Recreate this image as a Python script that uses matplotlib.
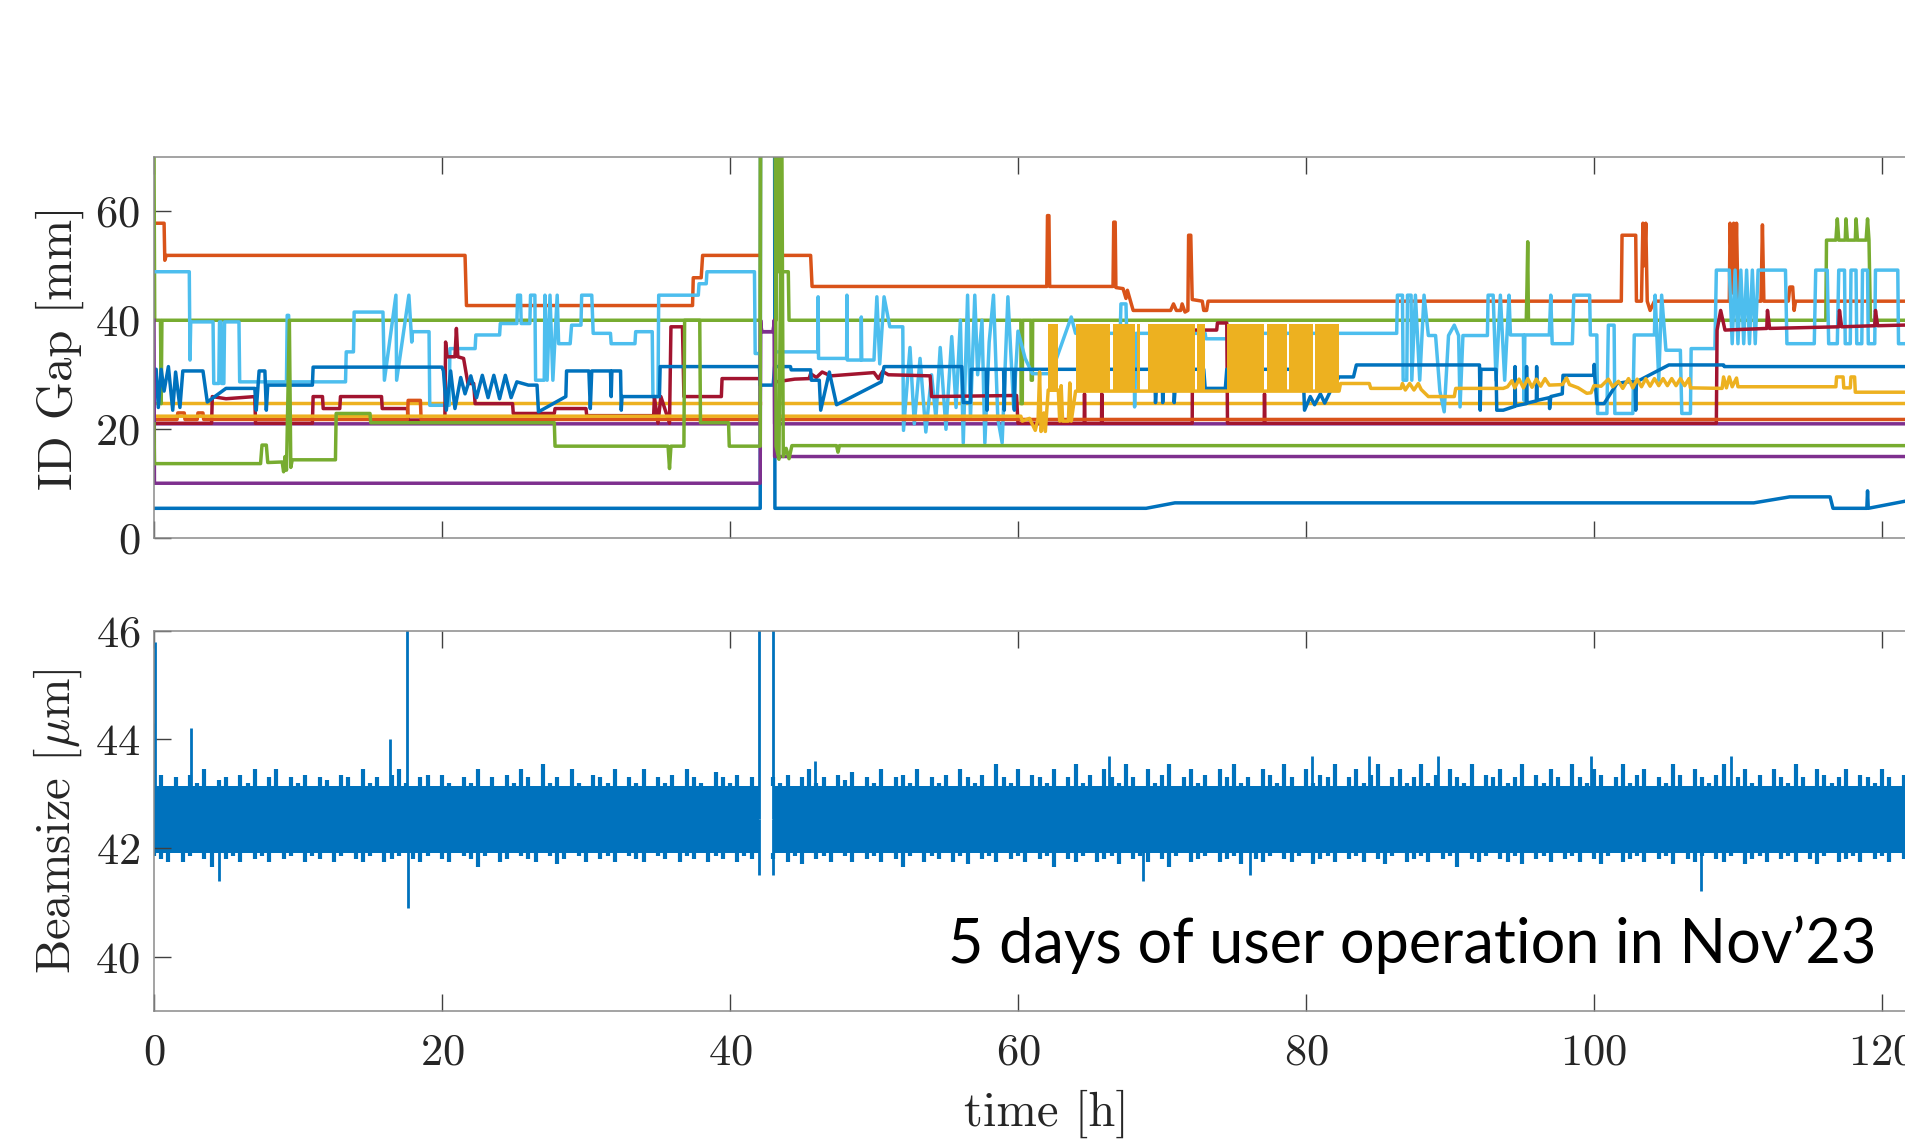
import numpy as np
import matplotlib
matplotlib.use("Agg")
import matplotlib.pyplot as plt

plt.rcParams["font.family"] = "cmr10"
plt.rcParams["mathtext.fontset"] = "cm"
plt.rcParams["axes.formatter.use_mathtext"] = True
plt.rcParams["axes.unicode_minus"] = False

NAN = np.nan

# MATLAB default colour order
BLUE = "#0072BD"
ORANGE = "#D95319"
YELLOW = "#EDB120"
PURPLE = "#7E2F8E"
GREEN = "#77AC30"
LIGHTBLUE = "#4DBEEE"
DARKRED = "#A2142F"

# ---- ID gaps, (time [h], gap [mm]) ----
GAP_BLUE_LOW = [(0.0, 5.5), (42.1, 5.5), (42.12, 75), (43.1, 75), (43.12, 5.5),
                (68.9, 5.5), (70.9, 6.5), (111.1, 6.5), (113.6, 7.6), (116.4, 7.6),
                (116.6, 5.5), (118.95, 5.5), (119.0, 8.7), (119.05, 5.5),
                (121.8, 6.9), (123.0, 7.4)]

GAP_ORANGE_HIGH = [(0.0, 57.8), (0.7, 57.8), (0.75, 51.0), (0.85, 51.9), (21.6, 51.9),
                   (21.7, 42.7), (37.4, 42.7), (37.45, 47.8), (38.0, 47.8), (38.1, 51.9),
                   (42.0, 51.9), (42.05, NAN), (43.2, 51.9), (45.6, 51.9), (45.7, 46.2),
                   (62.0, 46.2), (62.05, 59.2), (62.15, 59.2), (62.2, 46.2), (66.6, 46.2),
                   (66.65, 58.0), (66.75, 58.0), (66.8, 46.0), (67.3, 45.8), (67.5, 44.0),
                   (67.6, 45.5), (68.0, 41.8), (70.6, 41.8), (70.8, 43.0), (71.0, 41.8),
                   (71.3, 41.8), (71.4, 43.0), (71.6, 41.5), (71.8, 41.8), (71.85, 55.6),
                   (72.0, 55.6), (72.1, 43.8), (72.8, 43.5), (72.9, 41.8), (73.1, 41.8),
                   (73.2, 43.5), (101.9, 43.5), (101.95, 55.6), (102.9, 55.6), (102.95, 43.5),
                   (103.3, 43.5), (103.4, 57.8), (103.5, 50.0), (103.6, 57.8), (103.7, 43.5),
                   (103.9, 41.8), (104.2, 43.5), (109.4, 43.5), (109.45, 57.8), (109.6, 45.0),
                   (109.7, 57.8), (109.8, 45.0), (109.9, 57.8), (110.0, 43.5), (111.6, 43.5),
                   (111.7, 57.5), (111.8, 43.5), (113.5, 43.5), (113.6, 46.1), (113.8, 46.1),
                   (113.9, 41.8), (114.0, 43.5), (123.0, 43.5)]

GAP_YELLOW_FLAT = [(0.0, 24.9), (42.05, 24.9), (42.06, NAN), (43.15, 24.9), (123.0, 24.9)]

GAP_PURPLE_MID = [(0.0, 21.0), (42.1, 21.0), (42.12, 40.0), (42.2, 37.9), (43.0, 37.9),
                  (43.08, 40.0), (43.1, 21.0), (123.0, 21.0)]

GAP_GREEN_HIGH = [(0.0, 70.0), (0.05, 40.0), (0.45, 40.0), (0.5, 24.7), (0.55, 40.0),
                  (42.1, 40.0), (42.12, 75), (43.15, 75), (43.2, 40.0), (43.3, 75),
                  (43.4, 48.9), (43.5, 75), (43.55, 48.9), (44.05, 48.9), (44.1, 40.0),
                  (60.2, 40.0), (60.22, 24.7), (60.3, 24.7), (60.32, 40.0), (60.9, 40.0),
                  (60.92, 29.0), (61.0, 29.0), (61.02, 40.0), (95.3, 40.0), (95.35, 46.3),
                  (95.4, 54.4), (95.45, 40.0), (116.1, 40.0), (116.15, 54.7), (116.8, 54.7),
                  (116.9, 58.6), (117.0, 54.7), (117.45, 54.7), (117.5, 58.6), (117.6, 54.7),
                  (118.15, 54.7), (118.2, 58.6), (118.3, 54.7), (118.9, 54.7), (119.0, 58.6),
                  (119.1, 54.7), (119.2, 40.0), (123.0, 40.0)]

GAP_LIGHTBLUE = [(0.0, 48.9), (2.45, 48.9), (2.5, 32.7), (2.55, 39.7), (4.1, 39.7),
                 (4.15, 28.4), (4.5, 28.4), (4.55, 39.7), (4.65, 39.7), (4.7, 28.4),
                 (4.85, 28.4), (4.9, 39.7), (5.9, 39.7), (5.95, 28.7), (9.2, 28.7),
                 (9.25, 40.9), (9.35, 40.9), (9.4, 28.7), (13.3, 28.7), (13.35, 34.2),
                 (13.85, 34.2), (13.9, 41.5), (15.9, 41.5), (16.0, 29.0), (16.8, 44.6),
                 (16.85, 29.0), (17.7, 44.6), (17.9, 36.0), (17.95, 37.9), (19.1, 37.9),
                 (19.15, 24.4), (20.5, 24.4), (20.55, 34.8), (22.3, 34.8), (22.35, 37.3),
                 (24.0, 37.3), (24.05, 39.4), (25.2, 39.4), (25.25, 44.6), (25.45, 44.6),
                 (25.5, 39.4), (26.1, 39.4), (26.15, 44.6), (26.45, 44.6), (26.5, 29.0),
                 (27.1, 29.0), (27.15, 44.6), (27.3, 29.0), (27.5, 44.6), (27.7, 29.0),
                 (28.0, 44.6), (28.1, 35.7), (28.9, 35.7), (29.0, 39.1), (29.65, 39.1),
                 (29.7, 44.6), (30.4, 44.6), (30.5, 37.6), (31.7, 37.6), (31.75, 35.7),
                 (33.4, 35.7), (33.45, 37.9), (34.6, 37.9), (34.65, 26.0), (35.0, 26.0),
                 (35.05, 44.6), (37.8, 44.6), (37.85, 46.7), (38.35, 46.7), (38.4, 48.9),
                 (41.7, 48.9), (41.75, 33.9), (42.05, 33.9), (42.06, NAN), (43.15, 34.2),
                 (46.1, 34.2), (46.12, 44.3), (46.15, 33.0), (48.1, 33.0), (48.12, 44.6),
                 (48.15, 32.7), (49.1, 32.7), (49.12, 40.6), (49.15, 32.7), (50.0, 32.7),
                 (50.2, 44.3), (50.4, 32.0), (50.7, 44.3), (51.1, 38.8), (52.0, 38.8),
                 (52.05, 19.8), (52.5, 35.0), (52.8, 21.0), (53.2, 33.0), (53.6, 19.5),
                 (54.0, 30.0), (54.3, 22.0), (54.6, 35.0), (55.0, 20.0), (55.4, 37.0),
                 (55.7, 24.0), (56.0, 40.0), (56.2, 17.5), (56.5, 44.6), (56.7, 22.0),
                 (57.0, 44.6), (57.2, 30.0), (57.5, 40.0), (57.7, 17.5), (58.0, 36.0),
                 (58.3, 44.6), (58.6, 22.0), (58.9, 17.5), (59.3, 44.3), (59.7, 24.0),
                 (60.0, 38.0), (60.5, 33.0), (61.0, 30.2), (62.3, 30.2), (63.7, 40.6),
                 (64.0, 37.6), (67.1, 37.6), (67.15, 43.0), (67.5, 43.0), (67.55, 37.6),
                 (68.05, 37.6), (68.1, 24.1), (68.2, 37.6), (73.0, 37.6), (73.05, 36.6),
                 (74.5, 36.6), (74.55, 37.6), (86.3, 37.6), (86.35, 44.6), (86.7, 44.6),
                 (86.75, 29.0), (87.0, 29.0), (87.05, 44.6), (87.3, 44.6), (87.35, 29.0),
                 (87.6, 44.6), (87.9, 29.0), (88.2, 44.6), (88.5, 37.2), (89.0, 37.2),
                 (89.3, 27.0), (89.6, 23.2), (89.9, 37.2), (90.3, 39.1), (90.6, 37.2),
                 (90.7, 24.1), (90.9, 37.2), (92.6, 37.2), (92.65, 44.6), (93.0, 44.6),
                 (93.2, 29.0), (93.5, 44.6), (93.8, 29.0), (94.1, 44.6), (94.2, 37.3),
                 (95.1, 37.3), (95.15, 25.3), (95.2, 37.3), (96.9, 37.3), (97.0, 44.6),
                 (97.1, 35.7), (98.5, 35.7), (98.6, 44.6), (99.7, 44.6), (99.75, 37.3),
                 (100.2, 37.3), (100.25, 22.9), (100.9, 22.9), (101.0, 39.1), (101.4, 39.1),
                 (101.45, 22.9), (102.7, 22.9), (102.8, 37.3), (104.2, 37.3), (104.25, 44.6),
                 (104.5, 29.0), (104.7, 44.6), (105.0, 34.5), (106.0, 34.5), (106.1, 22.9),
                 (106.7, 22.9), (106.75, 34.8), (108.4, 34.8), (108.5, 49.2), (109.4, 49.2),
                 (109.6, 35.7), (109.8, 49.2), (110.0, 35.7), (110.2, 49.2), (110.4, 35.7),
                 (110.6, 49.2), (110.8, 35.7), (111.0, 49.2), (111.2, 35.7), (111.4, 49.2),
                 (113.3, 49.2), (113.4, 35.7), (115.3, 35.7), (115.4, 49.2), (116.2, 49.2),
                 (116.3, 35.7), (116.9, 35.7), (117.0, 49.2), (117.4, 49.2), (117.45, 35.7),
                 (117.8, 35.7), (117.85, 49.2), (118.2, 49.2), (118.25, 35.7), (118.6, 35.7),
                 (118.65, 49.2), (119.0, 49.2), (119.05, 35.7), (119.5, 35.7), (119.55, 49.2),
                 (121.1, 49.2), (121.15, 35.7), (123.0, 35.7)]

GAP_DARKRED = [(0.0, 21.1), (4.0, 21.1), (4.05, 26.0), (5.0, 25.6), (7.0, 26.0), (7.05, 21.1),
               (11.0, 21.1), (11.05, 26.0), (11.7, 26.0), (11.75, 23.8), (12.9, 23.8),
               (12.95, 26.0), (15.8, 26.0), (15.85, 23.8), (17.6, 23.8), (17.65, 21.7),
               (20.2, 21.7), (20.25, 36.0), (20.35, 33.3), (20.9, 33.3), (21.0, 38.5),
               (21.1, 33.3), (21.5, 33.0), (21.8, 28.4), (22.2, 28.4), (22.3, 24.7),
               (24.9, 24.7), (24.95, 22.9), (27.8, 22.9), (27.85, 23.8), (30.0, 23.8),
               (30.05, 22.5), (34.7, 22.5), (34.75, 26.0), (35.0, 21.1), (35.2, 26.0),
               (35.8, 21.1), (35.9, 38.8), (36.7, 38.8), (36.8, 26.0), (39.4, 26.0),
               (39.45, 29.3), (42.05, 29.3), (42.06, NAN), (43.2, 28.7), (44.5, 29.2),
               (45.5, 29.3), (45.6, 30.2), (46.0, 29.5), (46.4, 30.5), (47.0, 29.8),
               (49.0, 30.2), (50.0, 30.4), (50.3, 29.3), (50.6, 30.6), (51.0, 30.0),
               (53.9, 29.8), (54.0, 26.0), (59.9, 26.2), (60.0, 21.1), (64.6, 21.1),
               (64.62, 26.5), (64.65, 21.1), (65.8, 21.1), (65.82, 26.5), (65.85, 21.1),
               (72.1, 21.1), (72.12, 38.2), (73.8, 38.2), (73.85, 39.5), (74.5, 39.5),
               (74.55, 21.1), (77.1, 21.1), (77.12, 26.5), (77.15, 21.1), (108.5, 21.1),
               (108.55, 38.2), (108.8, 41.8), (109.1, 38.2), (112.0, 38.5), (112.05, 41.8),
               (112.2, 38.5), (117.0, 38.8), (117.05, 41.8), (117.2, 38.8), (119.5, 39.0),
               (119.55, 41.8), (119.7, 39.0), (123.0, 39.2)]

GAP_BLUE_MID = [(0.0, 31.0), (0.15, 31.0), (0.3, 24.0), (0.5, 31.0), (0.7, 27.0), (1.0, 31.5),
                (1.3, 23.5), (1.5, 30.5), (1.8, 24.0), (2.0, 30.7), (3.4, 30.7), (3.7, 25.0),
                (5.0, 27.5), (7.0, 27.5), (7.1, 23.5), (7.3, 30.7), (7.7, 30.7), (7.8, 23.5),
                (7.9, 28.1), (11.0, 28.1), (11.05, 31.4), (20.0, 31.4), (20.1, 30.7),
                (20.3, 23.5), (20.6, 30.7), (20.9, 23.8), (21.3, 29.5), (21.6, 26.5),
                (22.0, 29.8), (22.4, 25.8), (22.8, 29.9), (23.2, 25.8), (23.6, 29.9),
                (24.0, 25.6), (24.4, 29.9), (24.8, 25.8), (25.2, 28.7), (26.0, 28.1),
                (26.6, 28.1), (26.7, 23.2), (28.6, 26.0), (28.65, 30.7), (30.2, 30.7),
                (30.3, 23.8), (30.4, 30.7), (31.7, 30.7), (31.75, 26.0), (31.8, 30.7),
                (32.4, 30.7), (32.45, 23.5), (32.5, 26.0), (35.1, 26.0), (35.15, 31.5),
                (42.05, 31.5), (42.1, 28.1), (43.0, 28.1), (43.1, 31.5), (44.2, 31.5),
                (44.25, 30.9), (45.6, 30.9), (45.65, 29.0), (46.2, 29.0), (46.3, 23.5),
                (46.9, 30.5), (47.4, 24.5), (50.5, 28.7), (50.7, 31.5), (56.1, 31.5),
                (56.2, 24.9), (56.7, 24.9), (56.75, 31.0), (57.8, 31.0), (57.85, 23.5),
                (57.9, 31.0), (59.0, 31.0), (59.05, 23.5), (59.1, 31.0), (59.7, 31.0),
                (59.75, 23.5), (59.8, 31.0), (69.5, 31.0), (69.55, 24.9), (69.7, 31.0),
                (70.0, 31.0), (70.05, 24.9), (70.2, 31.0), (70.8, 31.0), (70.85, 24.9),
                (71.0, 31.0), (72.9, 31.0), (73.0, 27.5), (74.4, 27.5), (74.5, 31.0),
                (79.8, 31.0), (79.9, 23.5), (80.3, 26.0), (80.6, 24.5), (81.0, 26.5),
                (81.3, 24.8), (81.7, 27.0), (82.3, 29.6), (83.3, 29.6), (83.5, 31.8),
                (92.05, 31.8), (92.1, 23.5), (92.15, 31.0), (93.2, 31.0), (93.25, 23.5),
                (93.7, 23.5), (94.5, 24.2), (94.52, 31.5), (94.55, 24.3), (95.3, 24.7),
                (95.32, 31.5), (95.35, 24.8), (96.0, 25.2), (96.02, 31.5), (96.05, 25.3),
                (96.9, 25.8), (96.92, 23.8), (97.0, 26.0), (97.8, 26.5), (97.85, 29.9),
                (100.0, 29.9), (100.02, 31.9), (100.05, 29.9), (100.2, 24.7), (100.7, 24.7),
                (101.6, 28.4), (102.3, 28.7), (102.85, 28.7), (102.9, 23.5), (102.95, 28.7),
                (105.2, 31.8), (109.0, 31.8), (109.05, 31.5), (123.0, 31.5)]

GAP_ORANGE_LOW = [(0.0, 21.8), (1.6, 21.8), (1.65, 23.0), (2.1, 23.0), (2.15, 21.8),
                  (3.0, 21.8), (3.05, 23.0), (3.4, 23.0), (3.45, 21.8), (17.6, 21.8),
                  (17.65, 25.3), (18.5, 25.3), (18.55, 21.8), (42.05, 21.8), (42.06, NAN),
                  (43.15, 21.8), (123.0, 21.8)]

GAP_YELLOW_SWEEP = [(0.0, 22.4), (42.05, 22.4), (42.06, NAN), (43.15, 22.4), (60.2, 22.4),
                    (60.3, 21.5), (60.8, 22.0), (61.2, 19.8), (61.4, 22.0), (61.5, 30.5),
                    (61.6, 19.6), (61.8, 23.0), (61.9, 19.6), (62.1, 27.2), (62.8, 27.2),
                    (62.9, 21.5), (63.0, 28.0), (63.1, 21.5), (63.5, 21.5), (63.6, 28.5),
                    (63.7, 21.5), (64.0, 27.0), (82.3, 27.0), (82.4, 28.4), (84.4, 28.4),
                    (84.5, 27.5), (86.6, 27.5), (86.7, 28.4), (86.9, 27.2), (87.2, 28.4),
                    (87.5, 27.2), (87.8, 28.4), (88.0, 27.3), (88.5, 26.0), (90.3, 26.0),
                    (90.4, 27.5), (93.7, 27.5), (94.0, 27.8), (94.3, 28.9), (94.5, 27.6),
                    (94.8, 29.2), (95.1, 27.6), (95.4, 29.3), (95.7, 27.7), (96.0, 29.2),
                    (96.3, 27.9), (96.6, 29.3), (96.9, 28.1), (97.8, 28.2), (98.1, 29.4),
                    (98.3, 28.2), (98.9, 27.6), (99.5, 26.6), (99.8, 26.7), (100.0, 28.0),
                    (100.5, 27.9), (101.0, 29.2), (101.3, 27.8), (101.7, 28.8), (102.0, 27.5),
                    (102.4, 29.3), (102.7, 27.6), (103.0, 29.2), (103.3, 27.8), (103.6, 29.3),
                    (103.9, 27.9), (104.2, 29.3), (104.5, 28.0), (104.8, 29.3), (105.1, 28.0),
                    (105.4, 29.3), (105.7, 28.0), (106.0, 29.3), (106.3, 28.0), (106.6, 29.3),
                    (106.7, 27.6), (108.9, 27.5), (109.0, 29.6), (109.2, 27.6), (109.4, 29.6),
                    (109.6, 27.8), (109.9, 29.4), (110.0, 27.8), (116.8, 27.8), (116.85, 29.6),
                    (117.3, 29.6), (117.35, 27.6), (117.8, 27.6), (117.85, 29.6), (118.1, 29.6),
                    (118.15, 26.8), (123.0, 26.8)]

# periods where the sweeping undulator toggles fast between two gaps
SWEEP_BLOCKS = [(62.1, 62.8), (64.0, 66.4), (66.6, 68.1), (68.3, 68.45), (69.0, 72.3),
                (72.4, 73.0), (74.5, 77.1), (77.3, 78.7), (78.8, 80.5), (80.6, 82.3)]
SWEEP_RANGE = (26.9, 39.4)

GAP_PURPLE_LOW = [(0.0, 40.0), (0.03, 10.1), (42.1, 10.1), (42.12, 40.0), (42.2, 37.9),
                  (43.0, 37.9), (43.08, 40.0), (43.1, 15.0), (123.0, 15.0)]

GAP_GREEN_LOW = [(0.0, 21.0), (0.03, 13.7), (7.4, 13.7), (7.5, 17.1), (7.8, 17.1),
                 (7.9, 13.9), (8.9, 14.0), (9.0, 12.2), (9.1, 15.0), (9.2, 12.5), (9.4, 40.0),
                 (9.5, 13.0), (9.6, 14.4), (12.6, 14.4), (12.65, 22.9), (15.0, 22.9),
                 (15.05, 21.2), (27.8, 21.2), (27.85, 16.9), (35.7, 16.9), (35.8, 12.8),
                 (35.9, 16.9), (36.8, 16.9), (36.85, 40.0), (37.9, 40.0), (37.95, 21.2),
                 (39.9, 21.2), (39.95, 16.9), (42.1, 16.9), (42.12, 75), (43.15, 75),
                 (43.2, 16.9), (43.4, 14.5), (43.6, 75), (43.7, 15.0), (43.9, 16.5),
                 (44.1, 14.6), (44.3, 17.0), (47.4, 17.0), (47.5, 15.8), (47.6, 17.0),
                 (123.0, 17.0)]

# ---- beam size monitor ----
# data runs (start [h], end [h]); envelope sampled every 0.5 h from each start
BEAM_RUNS = [(0.0, 42.0), (43.0, 123.0)]
BEAM_CORE = (41.9, 43.15)

BEAM_HI_A = [
    43.25, 43.35, 43.15, 43.30, 43.10, 43.35, 43.20, 43.45, 43.15, 43.25,
    43.30, 43.10, 43.35, 43.20, 43.45, 43.15, 43.30, 43.45, 43.10, 43.30,
    43.20, 43.35, 43.10, 43.30, 43.25, 43.10, 43.35, 43.30, 43.15, 43.45,
    43.20, 43.30, 43.10, 43.35, 43.45, 43.20, 43.15, 43.30, 43.35, 43.15,
    43.35, 43.20, 43.10, 43.30, 43.20, 43.45, 43.15, 43.30, 43.10, 43.35,
    43.20, 43.45, 43.30, 43.10, 43.55, 43.20, 43.30, 43.15, 43.45, 43.20,
    43.10, 43.35, 43.30, 43.20, 43.45, 43.15, 43.30, 43.20, 43.45, 43.10,
    43.30, 43.20, 43.35, 43.10, 43.45, 43.30, 43.20, 43.15, 43.40, 43.30,
    43.20, 43.35, 43.10, 43.30,
]
BEAM_LO_A = [
    41.85, 41.80, 41.75, 41.90, 41.75, 41.85, 41.90, 41.80, 41.65, 41.90,
    41.80, 41.85, 41.75, 41.90, 41.80, 41.85, 41.75, 41.90, 41.80, 41.85,
    41.90, 41.75, 41.85, 41.80, 41.90, 41.75, 41.85, 41.90, 41.80, 41.75,
    41.85, 41.90, 41.75, 41.80, 41.85, 41.90, 41.80, 41.75, 41.85, 41.90,
    41.80, 41.75, 41.90, 41.85, 41.80, 41.65, 41.85, 41.90, 41.75, 41.80,
    41.90, 41.85, 41.80, 41.75, 41.90, 41.85, 41.70, 41.80, 41.90, 41.85,
    41.75, 41.90, 41.80, 41.85, 41.75, 41.90, 41.85, 41.80, 41.75, 41.90,
    41.85, 41.80, 41.90, 41.75, 41.85, 41.80, 41.90, 41.75, 41.85, 41.80,
    41.90, 41.75, 41.85, 41.80,
]
BEAM_HI_B = [
    43.30, 43.20, 43.35, 43.15, 43.30, 43.45, 43.20, 43.30, 43.10, 43.35,
    43.25, 43.40, 43.15, 43.30, 43.20, 43.45, 43.10, 43.30, 43.35, 43.20,
    43.45, 43.15, 43.30, 43.20, 43.35, 43.10, 43.45, 43.30, 43.20, 43.35,
    43.15, 43.55, 43.30, 43.20, 43.45, 43.10, 43.35, 43.30, 43.20, 43.45,
    43.15, 43.30, 43.55, 43.20, 43.35, 43.10, 43.45, 43.30, 43.20, 43.55,
    43.30, 43.15, 43.45, 43.20, 43.35, 43.55, 43.10, 43.30, 43.45, 43.20,
    43.35, 43.15, 43.45, 43.30, 43.55, 43.20, 43.30, 43.10, 43.45, 43.35,
    43.20, 43.55, 43.30, 43.15, 43.45, 43.20, 43.35, 43.30, 43.55, 43.10,
    43.30, 43.45, 43.20, 43.35, 43.55, 43.15, 43.30, 43.45, 43.20, 43.30,
    43.55, 43.20, 43.35, 43.10, 43.45, 43.30, 43.20, 43.55, 43.15, 43.35,
    43.30, 43.45, 43.20, 43.30, 43.55, 43.15, 43.35, 43.20, 43.45, 43.30,
    43.10, 43.55, 43.30, 43.20, 43.45, 43.35, 43.15, 43.30, 43.55, 43.20,
    43.35, 43.45, 43.10, 43.30, 43.20, 43.55, 43.35, 43.15, 43.45, 43.30,
    43.20, 43.35, 43.55, 43.15, 43.30, 43.45, 43.20, 43.35, 43.10, 43.45,
    43.30, 43.20, 43.55, 43.30, 43.15, 43.45, 43.35, 43.20, 43.30, 43.45,
    43.15, 43.35, 43.30, 43.20, 43.45, 43.30, 43.15, 43.35, 43.30, 43.20,
    43.30,
]
BEAM_LO_B = [
    41.80, 41.90, 41.75, 41.85, 41.70, 41.90, 41.80, 41.85, 41.75, 41.90,
    41.85, 41.75, 41.90, 41.80, 41.85, 41.75, 41.90, 41.80, 41.65, 41.85,
    41.90, 41.75, 41.85, 41.80, 41.90, 41.75, 41.85, 41.70, 41.90, 41.80,
    41.85, 41.75, 41.90, 41.80, 41.85, 41.75, 41.90, 41.80, 41.85, 41.65,
    41.90, 41.80, 41.75, 41.85, 41.90, 41.75, 41.80, 41.85, 41.70, 41.90,
    41.80, 41.85, 41.75, 41.90, 41.80, 41.65, 41.85, 41.90, 41.75, 41.80,
    41.85, 41.90, 41.75, 41.80, 41.85, 41.70, 41.90, 41.80, 41.75, 41.85,
    41.90, 41.80, 41.75, 41.85, 41.90, 41.70, 41.80, 41.85, 41.75, 41.90,
    41.80, 41.85, 41.75, 41.90, 41.80, 41.70, 41.85, 41.90, 41.75, 41.80,
    41.85, 41.75, 41.90, 41.80, 41.85, 41.65, 41.90, 41.80, 41.75, 41.85,
    41.90, 41.80, 41.75, 41.85, 41.70, 41.90, 41.80, 41.85, 41.75, 41.90,
    41.80, 41.85, 41.75, 41.90, 41.80, 41.70, 41.85, 41.90, 41.75, 41.80,
    41.85, 41.75, 41.90, 41.80, 41.85, 41.70, 41.90, 41.80, 41.75, 41.85,
    41.90, 41.80, 41.75, 41.85, 41.90, 41.70, 41.80, 41.85, 41.75, 41.90,
    41.80, 41.85, 41.75, 41.90, 41.80, 41.70, 41.85, 41.90, 41.75, 41.80,
    41.85, 41.75, 41.90, 41.80, 41.85, 41.75, 41.90, 41.80, 41.85, 41.75,
    41.85,
]

# single outliers, (time [h], beam size [um])
BEAM_SPIKES = [(0.0, 44.3), (0.1, 45.8), (2.6, 44.2), (4.5, 41.4), (16.4, 44.0),
               (17.6, 46.5), (17.65, 40.9), (42.0, 46.5), (42.0, 41.5), (43.0, 46.5),
               (43.0, 41.5), (45.9, 43.6), (66.3, 43.7), (68.7, 41.4), (76.1, 41.5),
               (80.4, 43.7), (84.4, 43.7), (89.2, 43.7), (99.8, 43.7), (107.4, 41.2),
               (109.5, 43.7)]

AXIS_GREY = "#262626"
TICK_SIZE = 32
LABEL_SIZE = 35

fig = plt.figure(figsize=(19.06, 11.39), dpi=100)
ax1 = fig.add_axes([0.0808, 0.5274, 0.9368, 0.335])
ax2 = fig.add_axes([0.0808, 0.1124, 0.9368, 0.3339])

gap_series = [
    (GAP_BLUE_LOW, BLUE), (GAP_ORANGE_HIGH, ORANGE), (GAP_YELLOW_FLAT, YELLOW),
    (GAP_PURPLE_MID, PURPLE), (GAP_GREEN_HIGH, GREEN), (GAP_LIGHTBLUE, LIGHTBLUE),
    (GAP_DARKRED, DARKRED), (GAP_BLUE_MID, BLUE), (GAP_ORANGE_LOW, ORANGE),
    (GAP_YELLOW_SWEEP, YELLOW), (GAP_PURPLE_LOW, PURPLE), (GAP_GREEN_LOW, GREEN),
]
for k, (pts, col) in enumerate(gap_series):
    t, y = zip(*pts)
    z = 2 + 0.01 * k
    ax1.plot(t, y, color=col, lw=2.5, zorder=z)
    if pts is GAP_YELLOW_SWEEP:
        for t0, t1 in SWEEP_BLOCKS:
            ax1.fill_between([t0, t1], SWEEP_RANGE[0], SWEEP_RANGE[1],
                             color=col, lw=0, zorder=z)

# beam size: solid core plus the per-sample excursions
for (start, end), hi, lo in zip(BEAM_RUNS, (BEAM_HI_A, BEAM_HI_B), (BEAM_LO_A, BEAM_LO_B)):
    ts = start + 0.5 * np.arange(len(hi))
    ax2.fill_between([start, end], BEAM_CORE[0], BEAM_CORE[1], color=BLUE, lw=0)
    ax2.vlines(ts, BEAM_CORE[1], hi, color=BLUE, lw=3.0)
    ax2.vlines(ts, lo, BEAM_CORE[0], color=BLUE, lw=3.0)
mid = 0.5 * (BEAM_CORE[0] + BEAM_CORE[1])
st, sv = zip(*BEAM_SPIKES)
ax2.vlines(st, mid, sv, color=BLUE, lw=2.0)

for ax in (ax1, ax2):
    ax.set_xlim(0, 124)
    ax.set_xticks(range(0, 121, 20))
    ax.tick_params(direction="in", top=True, right=True, length=12, width=1.0,
                   color="#404040", labelsize=TICK_SIZE, labelcolor=AXIS_GREY)
    ax.tick_params(axis="x", pad=16)
    ax.tick_params(axis="y", pad=10)
    for s in ax.spines.values():
        s.set_color("#8a8a8a")
        s.set_linewidth(1.1)

ax1.set_ylim(0, 70)
ax1.set_yticks([0, 20, 40, 60])
ax1.tick_params(labelbottom=False)
ax1.set_ylabel("ID Gap [mm]", fontsize=LABEL_SIZE, color=AXIS_GREY)
ax1.yaxis.set_label_coords(-0.039, 0.5)

ax2.set_ylim(39, 46)
ax2.set_yticks([40, 42, 44, 46])
ax2.set_ylabel(r"Beamsize [$\mu$m]", fontsize=LABEL_SIZE, color=AXIS_GREY)
ax2.yaxis.set_label_coords(-0.039, 0.5)
ax2.set_xlabel("time [h]", fontsize=LABEL_SIZE, color=AXIS_GREY, labelpad=12)

fig.text(0.9843, 0.1545, "5 days of user operation in Nov\u201923",
         ha="right", va="baseline", fontsize=44, family="Lato", color="black")

fig.savefig("out.png", dpi=100)
